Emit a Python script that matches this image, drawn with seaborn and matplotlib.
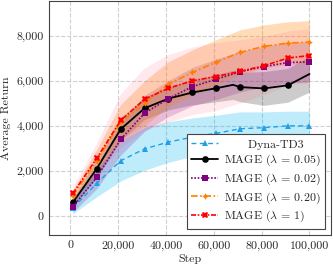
import matplotlib
matplotlib.use("Agg")
import matplotlib.pyplot as plt
import matplotlib.ticker as mticker
import seaborn as sns
import pandas as pd

# evaluation steps
steps = [1000, 11000, 21000, 31000, 41000, 51000, 61000, 71000, 81000, 91000, 100000]
steps_mage05 = [1000, 11000, 21000, 31000, 41000, 51000, 61000, 68000, 71000, 81000, 91000, 100000]

# mean returns
dyna_mean = [350, 1450, 2450, 2980, 3280, 3500, 3670, 3870, 3920, 4000, 4000]
mage05_mean = [600, 2100, 3850, 4780, 5210, 5480, 5670, 5820, 5720, 5660, 5800, 6300]
mage002_mean = [410, 1710, 3400, 4560, 5210, 5740, 6070, 6400, 6630, 6810, 6840]
mage020_mean = [900, 2450, 4150, 5000, 5850, 6370, 6830, 7260, 7530, 7670, 7720]
mage1_mean = [1000, 2560, 4240, 5180, 5670, 6000, 6190, 6420, 6670, 7010, 7120]

# spread (std) around the means
dyna_sd = [250, 600, 900, 950, 900, 850, 800, 750, 700, 650, 650]
mage05_sd = [200, 400, 500, 500, 500, 550, 600, 650, 650, 750, 750, 800]
mage002_sd = [250, 500, 700, 800, 800, 850, 900, 900, 900, 900, 900]
mage020_sd = [250, 500, 800, 1000, 1000, 1000, 1000, 1000, 950, 950, 950]
mage1_sd = [300, 700, 1200, 1400, 1500, 1500, 1500, 1400, 1300, 1200, 1200]

labels = ["      Dyna-TD3", r"MAGE ($\lambda\,=\,0.05$)", r"MAGE ($\lambda\,=\,0.02$)",
          r"MAGE ($\lambda\,=\,0.20$)", r"MAGE ($\lambda\,=\,1$)"]

x_ticks = [0, 20000, 40000, 60000, 80000, 100000]
y_ticks = [0, 2000, 4000, 6000, 8000]

sns.set_style("whitegrid", {"grid.linestyle": "--", "grid.color": "#d0d0d0",
                            "axes.edgecolor": "#444444"})
plt.rcParams["font.family"] = ["cmr10", "DejaVu Serif"]
plt.rcParams["mathtext.fontset"] = "cm"
plt.rcParams["axes.formatter.use_mathtext"] = True
plt.rcParams["axes.unicode_minus"] = False

FS = 8.6

fig, ax = plt.subplots(figsize=(3.33, 2.69), dpi=100)
fig.subplots_adjust(left=0.147, right=0.994, bottom=0.126, top=0.997)

series = [
    (steps, dyna_mean, dyna_sd, "#1fa0e8", "#00b4f0", 0.25, "^", (0, (3.5, 2.5)), 1.0, None),
    (steps_mage05, mage05_mean, mage05_sd, "black", "black", 0.2, "o", "-", 1.3,
     [0, 1, 2, 3, 4, 5, 6, 8, 9, 10]),
    (steps, mage002_mean, mage002_sd, "#800080", "#800080", 0.2, "s", (0, (1, 1)), 1.2, None),
    (steps, mage020_mean, mage020_sd, "#ff8000", "#ff8000", 0.28, (4, 1, 0), (0, (4, 1.5, 1, 1.5)), 1.2, None),
    (steps, mage1_mean, mage1_sd, "#ff0000", "#ff5070", 0.12, "X", (0, (3, 1, 1, 1)), 1.2, None),
]

for xs, m, sd, lc, fc, a, mk, ls, lw, mev in series:
    lo = [v - s for v, s in zip(m, sd)]
    hi = [v + s for v, s in zip(m, sd)]
    ax.fill_between(xs, lo, hi, color=fc, alpha=a, linewidth=0)

for (xs, m, sd, lc, fc, a, mk, ls, lw, mev), lab in zip(series, labels):
    df = pd.DataFrame({"step": xs, "ret": m})
    sns.lineplot(data=df, x="step", y="ret", ax=ax, color=lc, linestyle=ls,
                 linewidth=lw, marker=mk, markersize=4.8, markeredgewidth=0,
                 markevery=mev, label=lab, errorbar=None)

ax.set_xlim(-9000, 109000)
ax.set_ylim(-850, 9550)
ax.set_xticks(x_ticks)
ax.set_yticks(y_ticks)
fmt = mticker.FuncFormatter(lambda v, p: f"{int(v):,}")
ax.xaxis.set_major_formatter(fmt)
ax.yaxis.set_major_formatter(fmt)
ax.tick_params(labelsize=FS, length=0, pad=4)
ax.set_xlabel("Step", fontsize=FS, labelpad=2)
ax.set_ylabel("Average Return", fontsize=FS, labelpad=4)
for s in ax.spines.values():
    s.set_linewidth(0.8)

leg = ax.legend(loc="lower right", fontsize=FS, frameon=True, fancybox=False,
                edgecolor="#444444", framealpha=1, handlelength=2.2,
                borderaxespad=0.5, labelspacing=0.28, handletextpad=0.5,
                borderpad=0.4)
leg.get_frame().set_linewidth(0.8)

fig.savefig("out.png", dpi=100)
